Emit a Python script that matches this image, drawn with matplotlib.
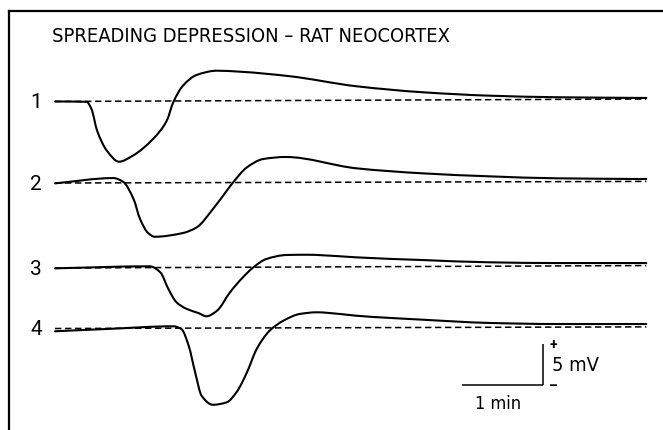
import numpy as np
import matplotlib
matplotlib.use("Agg")
import matplotlib.pyplot as plt
from matplotlib.path import Path
from matplotlib.patches import PathPatch
from matplotlib import font_manager as fm

plt.rcParams['lines.scale_dashes'] = False

# ---------------- data (time in min, potential in mV relative to baseline) ----
title = "SPREADING DEPRESSION – RAT NEOCORTEX"
trace_labels = ["1", "2", "3", "4"]

t1 = [0.00, 0.39, 0.45, 0.52, 0.64, 0.79, 0.96, 1.21, 1.38, 1.46, 1.58, 1.75, 2.00, 2.28, 2.90, 3.72, 4.54, 5.37, 6.19, 7.30]
v1 = [0.00, -0.04, -0.92, -3.59, -6.04, -7.40, -6.66, -4.61, -2.36, -0.10, 1.94, 3.26, 3.78, 3.66, 3.10, 1.87, 1.13, 0.71, 0.52, 0.43]

t2 = [0.00, 0.72, 0.84, 0.97, 1.05, 1.15, 1.23, 1.58, 1.75, 1.95, 2.12, 2.20, 2.37, 2.57, 2.85, 3.72, 4.54, 5.37, 6.19, 7.30]
v2 = [-0.04, 0.61, 0.16, -1.97, -4.42, -6.14, -6.60, -6.14, -5.44, -3.19, -0.95, 0.09, 1.93, 2.95, 3.20, 1.81, 1.19, 0.82, 0.58, 0.49]

t3 = [0.00, 1.17, 1.30, 1.40, 1.50, 1.63, 1.77, 1.87, 2.00, 2.16, 2.32, 2.45, 2.61, 2.86, 3.11, 3.52, 3.72, 4.54, 5.37, 6.19, 7.30]
v3 = [-0.04, 0.21, -0.53, -2.58, -4.21, -5.04, -5.53, -5.93, -5.25, -2.99, -1.14, 0.09, 1.11, 1.60, 1.63, 1.44, 1.31, 0.98, 0.70, 0.61, 0.61]

t4 = [0.00, 0.64, 1.46, 1.56, 1.65, 1.73, 1.81, 1.95, 2.12, 2.24, 2.37, 2.49, 2.65, 2.82, 3.02, 3.23, 3.52, 3.72, 4.54, 5.37, 6.19, 7.30]
v4 = [-0.34, -0.06, 0.27, -0.06, -2.11, -5.38, -8.26, -9.37, -9.07, -7.84, -5.38, -2.52, -0.27, 0.96, 1.78, 1.99, 1.78, 1.57, 1.08, 0.68, 0.55, 0.55]

# dashed baselines: start / end value (mV) at start / end time
base_t = [0.00, 7.30]
base_v = [[0.0, 0.3], [0.0, 0.2], [0.0, 0.3], [0.0, 0.2]]

scale_time = 1.0   # min
scale_volt = 5.0   # mV
scale_time_label = "1 min"
scale_volt_label = "5 mV"

# ---------------- layout ------------------------------------------------------
W, H = 663, 431
PX_MIN = 81.0
PX_MV = 8.14
X0 = 55.0
offsets = [40.36, 30.34, 19.90, 12.47]   # vertical placement of each trace (mV units)
scale_anchor = (6.02, 5.57)


def pick_font():
    fonts = fm.fontManager.ttflist
    for f in fonts:
        nm = f.name.lower()
        if ("narrow" in nm or "condensed" in nm or "condensed" in str(f.stretch).lower()) \
                and f.style == "normal" and f.weight in (400, "normal", "book", "regular"):
            return fm.FontProperties(fname=f.fname)
    return fm.FontProperties(family=["Roboto", "DejaVu Sans"])


narrow = pick_font()
regular = fm.FontProperties(family=["Roboto", "DejaVu Sans"])


def smooth_path(x, y):
    x = np.asarray(x, float)
    y = np.asarray(y, float)
    h = np.diff(x)
    d = np.diff(y) / h
    n = len(x)
    m = np.zeros(n)
    m[0] = d[0]
    m[-1] = d[-1]
    for k in range(1, n - 1):
        if d[k - 1] * d[k] <= 0:
            m[k] = 0.0
        else:
            w1 = 2 * h[k] + h[k - 1]
            w2 = h[k] + 2 * h[k - 1]
            m[k] = (w1 + w2) / (w1 / d[k - 1] + w2 / d[k])
    verts = [(x[0], y[0])]
    codes = [Path.MOVETO]
    for k in range(n - 1):
        verts += [(x[k] + h[k] / 3, y[k] + m[k] * h[k] / 3),
                  (x[k + 1] - h[k] / 3, y[k + 1] - m[k + 1] * h[k] / 3),
                  (x[k + 1], y[k + 1])]
        codes += [Path.CURVE4] * 3
    return Path(verts, codes)


fig = plt.figure(figsize=(W / 100, H / 100), dpi=100)
fig.patch.set_facecolor("white")

# frame (left and top border)
fr = fig.add_axes([9 / W, 0, 1 - 9 / W, (H - 12) / H])
fr.set_xticks([]); fr.set_yticks([])
for s in ["right", "bottom"]:
    fr.spines[s].set_visible(False)
for s in ["left", "top"]:
    fr.spines[s].set_linewidth(1.6)
fr.patch.set_alpha(0)

ax = fig.add_axes([0, 0, 1, 1])
ax.set_xlim(-X0 / PX_MIN, (W - X0) / PX_MIN)
ax.set_ylim(0, H / PX_MV)
ax.axis("off")
ax.patch.set_alpha(0)

traces = [(t1, v1), (t2, v2), (t3, v3), (t4, v4)]
for (tt, vv), off, bv, lab in zip(traces, offsets, base_v, trace_labels):
    yy = np.asarray(vv) + off
    ax.add_patch(PathPatch(smooth_path(tt, yy), fill=False, lw=1.5, ec="black",
                           capstyle="round", joinstyle="round"))
    ln, = ax.plot(base_t, np.asarray(bv) + off, color="black", lw=1.1)
    ln.set_dashes([4.6, 2.6])
    ax.text(-19 / PX_MIN, off, lab, ha="center", va="center",
            fontproperties=regular, fontsize=15, color="black")

# scale bar
sx, sy = scale_anchor
ax.plot([sx - scale_time, sx], [sy, sy], color="black", lw=1.1, solid_capstyle="butt")
ax.plot([sx, sx], [sy, sy + scale_volt], color="black", lw=1.1, solid_capstyle="butt")
ax.text(sx + 11 / PX_MIN, sy + scale_volt, "+", ha="center", va="center",
        fontproperties=regular, fontsize=10, fontweight="bold")
ax.text(sx + 11 / PX_MIN, sy - 0.1, "–", ha="center", va="center",
        fontproperties=regular, fontsize=10, fontweight="bold")
t_mv = ax.text(sx + 9 / PX_MIN, sy + scale_volt / 2, scale_volt_label, ha="left", va="center",
               fontproperties=narrow, fontsize=12.5)
t_min = ax.text(sx - scale_time / 2 - 0.05, sy - 18 / PX_MV, scale_time_label, ha="center",
                va="center", fontproperties=narrow, fontsize=12.5)

t_title = fig.text(52 / W, 1 - 42 / H, title, ha="left", va="baseline",
                   fontproperties=narrow, fontsize=14.8, color="black")

# fit text widths to the reference layout
renderer = fig.canvas.get_renderer()
for txt, target in [(t_title, 395.0), (t_mv, 47.0), (t_min, 46.0)]:
    wpx = txt.get_window_extent(renderer).width
    txt.set_fontsize(txt.get_fontsize() * target / wpx)

fig.savefig("out.png", dpi=100)
